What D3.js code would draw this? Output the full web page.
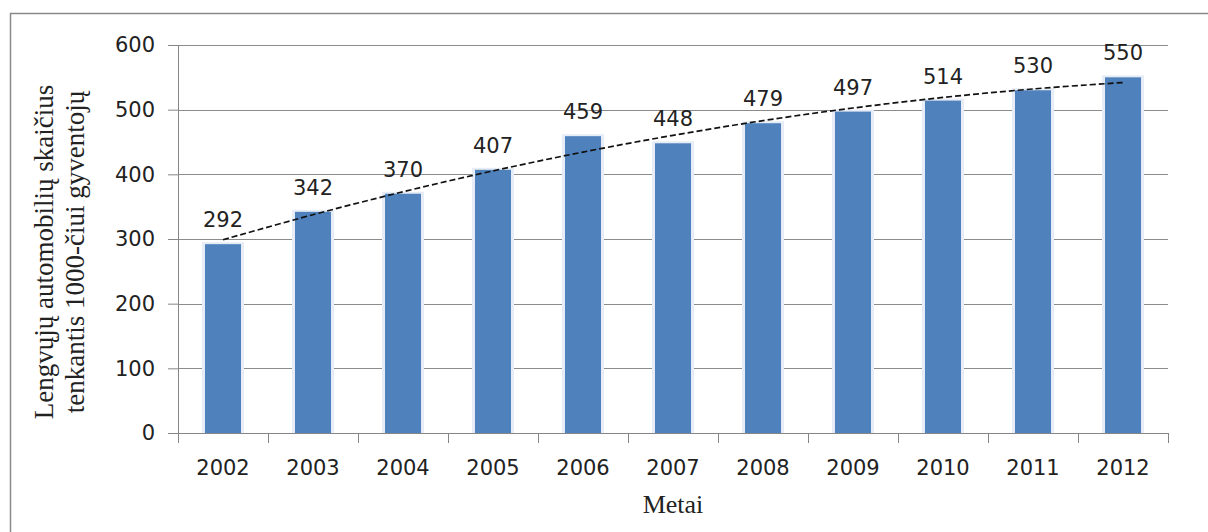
<!DOCTYPE html>
<html>
<head>
<meta charset="utf-8">
<script src="https://cdn.jsdelivr.net/npm/d3@7"></script>
<style>
  body { margin: 0; background: #fff; }
  #chart { width: 1208px; height: 532px; }
</style>
</head>
<body>
<div id="chart"></div>
<script>
// data
var years = ["2002", "2003", "2004", "2005", "2006", "2007", "2008", "2009", "2010", "2011", "2012"];
var cars = [292, 342, 370, 407, 459, 448, 479, 497, 514, 530, 550];
var yTicks = [0, 100, 200, 300, 400, 500, 600];
var yTitle = ["Lengvųjų automobilių skaičius", "tenkantis 1000-čiui gyventojų"];
var xTitle = "Metai";

var W = 1208, H = 532;
var margin = { top: 45, right: 40, bottom: 99, left: 178 },
    width = 1168 - margin.left,
    height = 433 - margin.top;

var svg = d3.select("#chart").append("svg")
    .attr("width", W)
    .attr("height", H);

// outer chart border (runs off the right and bottom edges)
svg.append("rect")
    .attr("x", 10.5).attr("y", 13.5)
    .attr("width", 1210).attr("height", 540)
    .attr("fill", "none")
    .attr("stroke", "#8a8a8a")
    .attr("stroke-width", 1.5);

var g = svg.append("g")
    .attr("transform", "translate(" + margin.left + "," + margin.top + ")");

var x = d3.scaleBand()
    .domain(years)
    .range([0, width])
    .paddingInner(0.6)
    .paddingOuter(0.3);

var y = d3.scaleLinear()
    .domain([0, 600])
    .range([height, 0]);

// gridlines
g.append("g")
    .selectAll("line")
    .data(yTicks.slice(1))
    .enter()
    .append("line")
    .attr("x1", 0)
    .attr("x2", width)
    .attr("y1", function(d) { return Math.round(y(d)) + 0.5; })
    .attr("y2", function(d) { return Math.round(y(d)) + 0.5; })
    .attr("stroke", "#8c8c8c")
    .attr("stroke-width", 1);

// y axis
var yAxis = d3.axisLeft(y)
    .tickValues(yTicks)
    .tickSize(10)
    .tickPadding(13);

var ya = g.append("g")
    .attr("class", "y axis")
    .call(yAxis);
ya.select(".domain").attr("stroke", "#868686");
ya.selectAll("line").attr("stroke", "#868686");
ya.selectAll("text")
    .style("font-family", "DejaVu Sans")
    .style("font-size", "21px")
    .style("fill", "#222");

// bars with a light glow edge
var bars = g.append("g");
bars.selectAll("rect.glow")
    .data(cars)
    .enter()
    .append("rect")
    .attr("class", "glow")
    .attr("x", function(d, i) { return x(years[i]) - 3; })
    .attr("y", function(d) { return y(d) - 2; })
    .attr("width", x.bandwidth() + 6)
    .attr("height", function(d) { return height - y(d) + 2; })
    .attr("fill", "#e6edf6");

bars.selectAll("rect.bar")
    .data(cars)
    .enter()
    .append("rect")
    .attr("class", "bar")
    .attr("x", function(d, i) { return x(years[i]); })
    .attr("y", function(d) { return y(d); })
    .attr("width", x.bandwidth())
    .attr("height", function(d) { return height - y(d); })
    .attr("fill", "#4f81bd");

// x axis with ticks at the category boundaries
var xBound = d3.scaleLinear().domain([0, years.length]).range([0, width]);
var xa = g.append("g")
    .attr("class", "x axis")
    .attr("transform", "translate(0," + height + ")");
xa.append("line")
    .attr("x1", 0).attr("x2", width)
    .attr("y1", 0.5).attr("y2", 0.5)
    .attr("stroke", "#868686");
xa.selectAll("line.tick")
    .data(d3.range(years.length + 1))
    .enter()
    .append("line")
    .attr("class", "tick")
    .attr("x1", function(d) { return Math.round(xBound(d)) + 0.5; })
    .attr("x2", function(d) { return Math.round(xBound(d)) + 0.5; })
    .attr("y1", 0)
    .attr("y2", 10)
    .attr("stroke", "#868686");
xa.selectAll("text")
    .data(years)
    .enter()
    .append("text")
    .attr("x", function(d) { return x(d) + x.bandwidth() / 2; })
    .attr("y", 42)
    .attr("text-anchor", "middle")
    .style("font-family", "DejaVu Sans")
    .style("font-size", "21px")
    .style("fill", "#222")
    .text(function(d) { return d; });

// polynomial (order 2) trendline fitted to the bar values
var n = cars.length;
var ts = d3.range(n).map(function(i) { return i + 1; });
var tm = d3.mean(ts), ym = d3.mean(cars);
var c = ts.map(function(t) { return t - tm; });
var q2 = d3.mean(c.map(function(v) { return v * v; }));
var qq = c.map(function(v) { return v * v - q2; });
var b1 = d3.sum(c, function(v, i) { return v * cars[i]; }) / d3.sum(c, function(v) { return v * v; });
var b2 = d3.sum(qq, function(v, i) { return v * cars[i]; }) / d3.sum(qq, function(v) { return v * v; });
var trend = c.map(function(v, i) { return ym + b1 * v + b2 * qq[i]; });

var line = d3.line()
    .x(function(d, i) { return x(years[i]) + x.bandwidth() / 2; })
    .y(function(d) { return y(d); })
    .curve(d3.curveCatmullRom);

g.append("path")
    .datum(trend)
    .attr("d", line)
    .attr("fill", "none")
    .attr("stroke", "#111")
    .attr("stroke-width", 1.7)
    .attr("stroke-dasharray", "6,3");

// value labels
g.append("g")
    .selectAll("text")
    .data(cars)
    .enter()
    .append("text")
    .attr("x", function(d, i) { return x(years[i]) + x.bandwidth() / 2; })
    .attr("y", function(d) { return y(d) - 17; })
    .attr("text-anchor", "middle")
    .style("font-family", "DejaVu Sans")
    .style("font-size", "21px")
    .style("fill", "#222")
    .text(function(d) { return d; });

// axis titles
var yt = svg.append("text")
    .attr("transform", "translate(53,252) rotate(-90)")
    .attr("text-anchor", "middle")
    .style("font-family", "Liberation Serif")
    .style("font-size", "27px")
    .style("fill", "#222");
yt.selectAll("tspan")
    .data(yTitle)
    .enter()
    .append("tspan")
    .attr("x", 0)
    .attr("dy", function(d, i) { return i === 0 ? 0 : 31; })
    .text(function(d) { return d; });

svg.append("text")
    .attr("x", margin.left + width / 2)
    .attr("y", 513)
    .attr("text-anchor", "middle")
    .style("font-family", "Liberation Serif")
    .style("font-size", "26px")
    .style("fill", "#222")
    .text(xTitle);
</script>
</body>
</html>
